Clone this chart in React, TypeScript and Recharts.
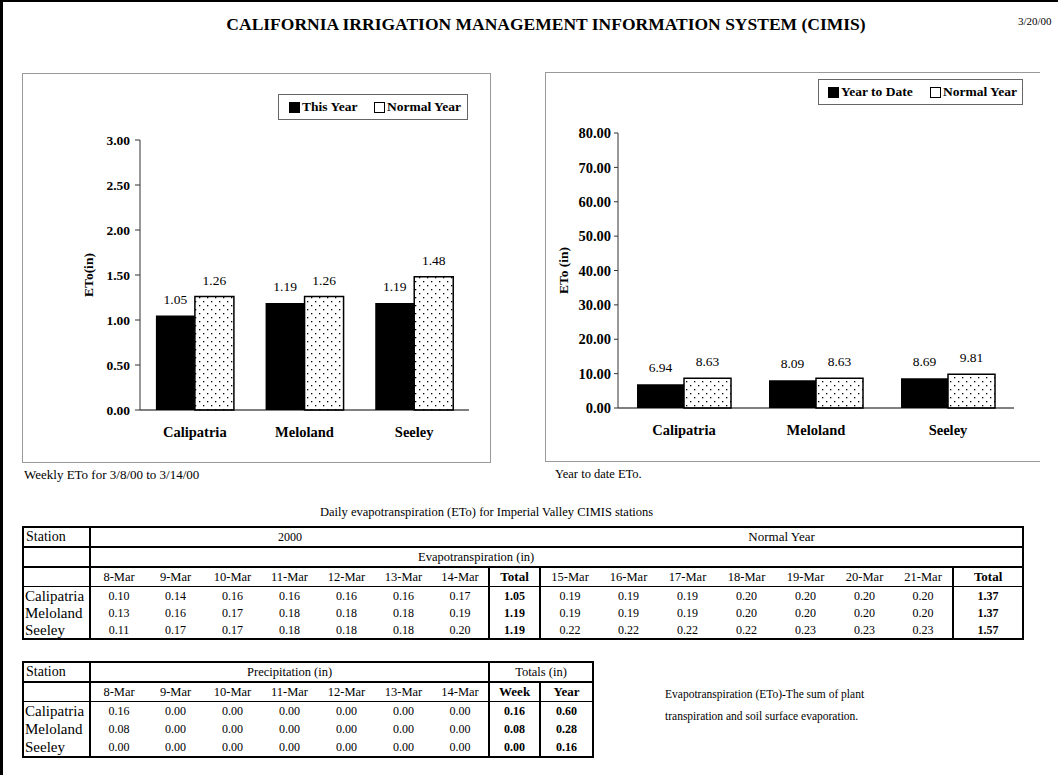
import React from 'react';
import { BarChart, Bar, XAxis, YAxis, LabelList } from 'recharts';

const stations = ['Calipatria', 'Meloland', 'Seeley'];
const weeklyThisYear = [1.05, 1.19, 1.19];
const weeklyNormal = [1.26, 1.26, 1.48];
const ytdThisYear = [6.94, 8.09, 8.69];
const ytdNormal = [8.63, 8.63, 9.81];
const weeklyTicks = [0, 0.5, 1, 1.5, 2, 2.5, 3];
const ytdTicks = [0, 10, 20, 30, 40, 50, 60, 70, 80];

const weekDates = ['8-Mar', '9-Mar', '10-Mar', '11-Mar', '12-Mar', '13-Mar', '14-Mar'];
const normalDates = ['15-Mar', '16-Mar', '17-Mar', '18-Mar', '19-Mar', '20-Mar', '21-Mar'];
const etoDaily = [
  [0.1, 0.14, 0.16, 0.16, 0.16, 0.16, 0.17],
  [0.13, 0.16, 0.17, 0.18, 0.18, 0.18, 0.19],
  [0.11, 0.17, 0.17, 0.18, 0.18, 0.18, 0.2],
];
const etoTotal = [1.05, 1.19, 1.19];
const normalDaily = [
  [0.19, 0.19, 0.19, 0.2, 0.2, 0.2, 0.2],
  [0.19, 0.19, 0.19, 0.2, 0.2, 0.2, 0.2],
  [0.22, 0.22, 0.22, 0.22, 0.23, 0.23, 0.23],
];
const normalTotal = [1.37, 1.37, 1.57];
const precipDaily = [
  [0.16, 0, 0, 0, 0, 0, 0],
  [0.08, 0, 0, 0, 0, 0, 0],
  [0, 0, 0, 0, 0, 0, 0],
];
const precipWeek = [0.16, 0.08, 0.0];
const precipYear = [0.6, 0.28, 0.16];

const serif = '"Liberation Serif", "Times New Roman", serif';
const B = '2px solid #000';
const T = '1px solid #000';
const fmt = (v: number) => Number(v).toFixed(2);

const weeklyData = stations.map((s, i) => ({ station: s, thisYear: weeklyThisYear[i], normal: weeklyNormal[i] }));
const ytdData = stations.map((s, i) => ({ station: s, ytd: ytdThisYear[i], normal: ytdNormal[i] }));

const catStyle = { fill: '#000', fontSize: 14.5, fontWeight: 'bold', fontFamily: serif };
const axisLabel = { textAnchor: 'middle', fontWeight: 'bold', fontSize: 13.5, fill: '#000', fontFamily: serif };

const Dots = ({ id }: { id: string }) => (
  <defs>
    <pattern id={id} width="8" height="8" patternUnits="userSpaceOnUse">
      <rect width="8" height="8" fill="#fff" />
      <rect x="1" y="1" width="1.3" height="1.3" fill="#000" />
      <rect x="5" y="5" width="1.3" height="1.3" fill="#000" />
    </pattern>
  </defs>
);

const Legend = ({ left, top, width, items }: { left: number; top: number; width: number; items: { label: string; x: number; filled: boolean }[] }) => (
  <div style={{ position: 'absolute', left, top, width, height: 26, border: '1px solid #666', boxSizing: 'border-box', fontFamily: serif, fontWeight: 'bold', fontSize: 13.5 }}>
    {items.map((it) => (
      <div key={it.label} style={{ position: 'absolute', left: it.x, top: 5, display: 'flex', alignItems: 'center', whiteSpace: 'nowrap' }}>
        <span style={{ display: 'inline-block', width: 9, height: 9, background: it.filled ? '#000' : '#fff', border: '1px solid #000', marginRight: 2 }} />
        <span style={{ lineHeight: '14px' }}>{it.label}</span>
      </div>
    ))}
  </div>
);

const td = (extra: React.CSSProperties = {}): React.CSSProperties => ({
  padding: 0,
  height: 17,
  lineHeight: '16px',
  fontSize: 12,
  textAlign: 'center',
  whiteSpace: 'nowrap',
  overflow: 'hidden',
  ...extra,
});

const nameCell = { textAlign: 'left' as const, paddingLeft: 1, fontSize: 15 };

const App: React.FC = () => {
  return (
    <div style={{ position: 'absolute', left: 0, top: 0, width: 1058, height: 775, background: '#fff', fontFamily: serif, color: '#000', overflow: 'hidden' }}>
      <div style={{ position: 'absolute', left: 0, top: 0, width: 1058, height: 775, borderLeft: '3px solid #000', borderTop: '2px solid #000', boxSizing: 'border-box' }} />
      <div style={{ position: 'absolute', left: 0, width: 1092, top: 14, textAlign: 'center', fontWeight: 'bold', fontSize: 17.5 }}>
        CALIFORNIA IRRIGATION MANAGEMENT INFORMATION SYSTEM (CIMIS)
      </div>
      <div style={{ position: 'absolute', left: 1018, top: 15, fontSize: 11 }}>3/20/00</div>

      {/* chart frames */}
      <div style={{ position: 'absolute', left: 22, top: 73, width: 469, height: 390, border: '1px solid #999', boxSizing: 'border-box' }} />
      <div style={{ position: 'absolute', left: 545, top: 72, width: 495, height: 390, border: '1px solid #999', borderRight: 'none', boxSizing: 'border-box' }} />

      <div style={{ position: 'absolute', left: 22, top: 72 }}>
        <BarChart width={470} height={390} data={weeklyData} margin={{ top: 68, right: 23, bottom: 22, left: 0 }} barGap={0} barCategoryGap="14.5%">
          <Dots id="dotsL" />
          <XAxis dataKey="station" height={30} axisLine={{ stroke: '#000' }} tickLine={false} tick={catStyle} tickMargin={11} />
          <YAxis
            width={118}
            domain={[0, 3]}
            ticks={weeklyTicks}
            tickFormatter={fmt}
            axisLine={{ stroke: '#333' }}
            tickLine={{ stroke: '#333' }}
            tickSize={5}
            tickMargin={5}
            tick={{ fill: '#000', fontSize: 13.5, fontWeight: 'bold', fontFamily: serif }}
            label={{ value: 'ETo(in)', angle: -90, position: 'insideLeft', offset: 66, style: axisLabel }}
          />
          <Bar dataKey="thisYear" fill="#000" isAnimationActive={false}>
            <LabelList dataKey="thisYear" position="top" offset={12} formatter={fmt} fill="#000" fontSize={13.5} fontFamily={serif} />
          </Bar>
          <Bar dataKey="normal" fill="url(#dotsL)" stroke="#000" strokeWidth={1.5} isAnimationActive={false}>
            <LabelList dataKey="normal" position="top" offset={12} formatter={fmt} fill="#000" fontSize={13.5} fontFamily={serif} />
          </Bar>
        </BarChart>
      </div>

      <div style={{ position: 'absolute', left: 545, top: 72 }}>
        <BarChart width={495} height={390} data={ytdData} margin={{ top: 61, right: 26, bottom: 24, left: 0 }} barGap={0} barCategoryGap="14.4%">
          <Dots id="dotsR" />
          <XAxis dataKey="station" height={30} axisLine={{ stroke: '#000' }} tickLine={false} tick={catStyle} tickMargin={11} />
          <YAxis
            width={73}
            domain={[0, 80]}
            ticks={ytdTicks}
            tickFormatter={fmt}
            axisLine={{ stroke: '#333' }}
            tickLine={{ stroke: '#333' }}
            tickSize={4}
            tickMargin={3}
            tick={{ fill: '#000', fontSize: 14.5, fontWeight: 'bold', fontFamily: serif }}
            label={{ value: 'ETo (in)', angle: -90, position: 'insideLeft', offset: 18, style: axisLabel }}
          />
          <Bar dataKey="ytd" fill="#000" isAnimationActive={false}>
            <LabelList dataKey="ytd" position="top" offset={12} formatter={fmt} fill="#000" fontSize={13.5} fontFamily={serif} />
          </Bar>
          <Bar dataKey="normal" fill="url(#dotsR)" stroke="#000" strokeWidth={1.5} isAnimationActive={false}>
            <LabelList dataKey="normal" position="top" offset={12} formatter={fmt} fill="#000" fontSize={13.5} fontFamily={serif} />
          </Bar>
        </BarChart>
      </div>

      <Legend left={278} top={94} width={190} items={[{ label: 'This Year', x: 10, filled: true }, { label: 'Normal Year', x: 95, filled: false }]} />
      <Legend left={818} top={79} width={205} items={[{ label: 'Year to Date', x: 9, filled: true }, { label: 'Normal Year', x: 111, filled: false }]} />

      <div style={{ position: 'absolute', left: 24, top: 467, fontSize: 13 }}>Weekly ETo for 3/8/00 to 3/14/00</div>
      <div style={{ position: 'absolute', left: 555, top: 467, fontSize: 12.5 }}>Year to date ETo.</div>
      <div style={{ position: 'absolute', left: 320, top: 505, fontSize: 12.5 }}>Daily evapotranspiration (ETo) for Imperial Valley CIMIS stations</div>

      {/* ETo table */}
      <table style={{ position: 'absolute', left: 22, top: 526, width: 1000, borderCollapse: 'collapse', tableLayout: 'fixed', fontFamily: serif }}>
        <colgroup>
          <col style={{ width: 67 }} />
          {weekDates.map((d) => <col key={d} style={{ width: 57 }} />)}
          <col style={{ width: 51 }} />
          {normalDates.map((d) => <col key={d} style={{ width: 59 }} />)}
          <col style={{ width: 70 }} />
        </colgroup>
        <tbody>
          <tr>
            <td style={td({ height: 18, border: B, textAlign: 'left', paddingLeft: 2, fontSize: 14 })}>Station</td>
            <td colSpan={7} style={td({ height: 18, borderTop: B, borderBottom: B })}>2000</td>
            <td colSpan={9} style={td({ height: 18, borderTop: B, borderBottom: B, borderRight: B, paddingLeft: 52, fontSize: 13 })}>Normal Year</td>
          </tr>
          <tr>
            <td style={td({ height: 18, border: B })} />
            <td colSpan={16} style={td({ height: 18, borderBottom: B, borderRight: B, textAlign: 'left', paddingLeft: 327, fontSize: 12.5 })}>Evapotranspiration (in)</td>
          </tr>
          <tr>
            <td style={td({ height: 18, borderLeft: B, borderRight: B, borderBottom: T })} />
            {weekDates.map((d) => <td key={d} style={td({ height: 18, borderBottom: T, fontSize: 12.5 })}>{d}</td>)}
            <td style={td({ height: 18, borderLeft: B, borderRight: B, borderBottom: T, fontWeight: 'bold', fontSize: 13 })}>Total</td>
            {normalDates.map((d) => <td key={d} style={td({ height: 18, borderBottom: T, fontSize: 12.5 })}>{d}</td>)}
            <td style={td({ height: 18, borderLeft: B, borderRight: B, borderBottom: T, fontWeight: 'bold', fontSize: 13 })}>Total</td>
          </tr>
          {stations.map((s, i) => {
            const last = i === stations.length - 1;
            const bb = last ? { borderBottom: B } : {};
            return (
              <tr key={s}>
                <td style={td({ borderLeft: B, borderRight: B, ...nameCell, ...bb })}>{s}</td>
                {etoDaily[i].map((v, j) => <td key={j} style={td(bb)}>{fmt(v)}</td>)}
                <td style={td({ borderLeft: B, borderRight: B, fontWeight: 'bold', ...bb })}>{fmt(etoTotal[i])}</td>
                {normalDaily[i].map((v, j) => <td key={j} style={td(bb)}>{fmt(v)}</td>)}
                <td style={td({ borderLeft: B, borderRight: B, fontWeight: 'bold', ...bb })}>{fmt(normalTotal[i])}</td>
              </tr>
            );
          })}
        </tbody>
      </table>

      {/* Precipitation table */}
      <table style={{ position: 'absolute', left: 22, top: 661, width: 570, borderCollapse: 'collapse', tableLayout: 'fixed', fontFamily: serif }}>
        <colgroup>
          <col style={{ width: 67 }} />
          {weekDates.map((d) => <col key={d} style={{ width: 57 }} />)}
          <col style={{ width: 51 }} />
          <col style={{ width: 53 }} />
        </colgroup>
        <tbody>
          <tr>
            <td style={td({ height: 18, border: B, textAlign: 'left', paddingLeft: 2, fontSize: 14 })}>Station</td>
            <td colSpan={7} style={td({ height: 18, borderTop: B, borderBottom: B, fontSize: 12.5 })}>Precipitation (in)</td>
            <td colSpan={2} style={td({ height: 18, border: B, fontSize: 12.5 })}>Totals (in)</td>
          </tr>
          <tr>
            <td style={td({ height: 18, borderLeft: B, borderRight: B, borderBottom: T })} />
            {weekDates.map((d) => <td key={d} style={td({ height: 18, borderBottom: T, fontSize: 12.5 })}>{d}</td>)}
            <td style={td({ height: 18, borderLeft: B, borderRight: B, borderBottom: T, fontWeight: 'bold', fontSize: 13 })}>Week</td>
            <td style={td({ height: 18, borderRight: B, borderBottom: T, fontWeight: 'bold', fontSize: 13 })}>Year</td>
          </tr>
          {stations.map((s, i) => {
            const last = i === stations.length - 1;
            const bb = last ? { borderBottom: B } : {};
            return (
              <tr key={s}>
                <td style={td({ height: 18, borderLeft: B, borderRight: B, ...nameCell, ...bb })}>{s}</td>
                {precipDaily[i].map((v, j) => <td key={j} style={td({ height: 18, ...bb })}>{fmt(v)}</td>)}
                <td style={td({ height: 18, borderLeft: B, borderRight: B, fontWeight: 'bold', ...bb })}>{fmt(precipWeek[i])}</td>
                <td style={td({ height: 18, borderRight: B, fontWeight: 'bold', ...bb })}>{fmt(precipYear[i])}</td>
              </tr>
            );
          })}
        </tbody>
      </table>

      <div style={{ position: 'absolute', left: 665, top: 683, fontSize: 11.5, lineHeight: '22px' }}>
        Evapotranspiration (ETo)-The sum of plant
        <br />
        transpiration and soil surface evaporation.
      </div>
    </div>
  );
};

export default App;
